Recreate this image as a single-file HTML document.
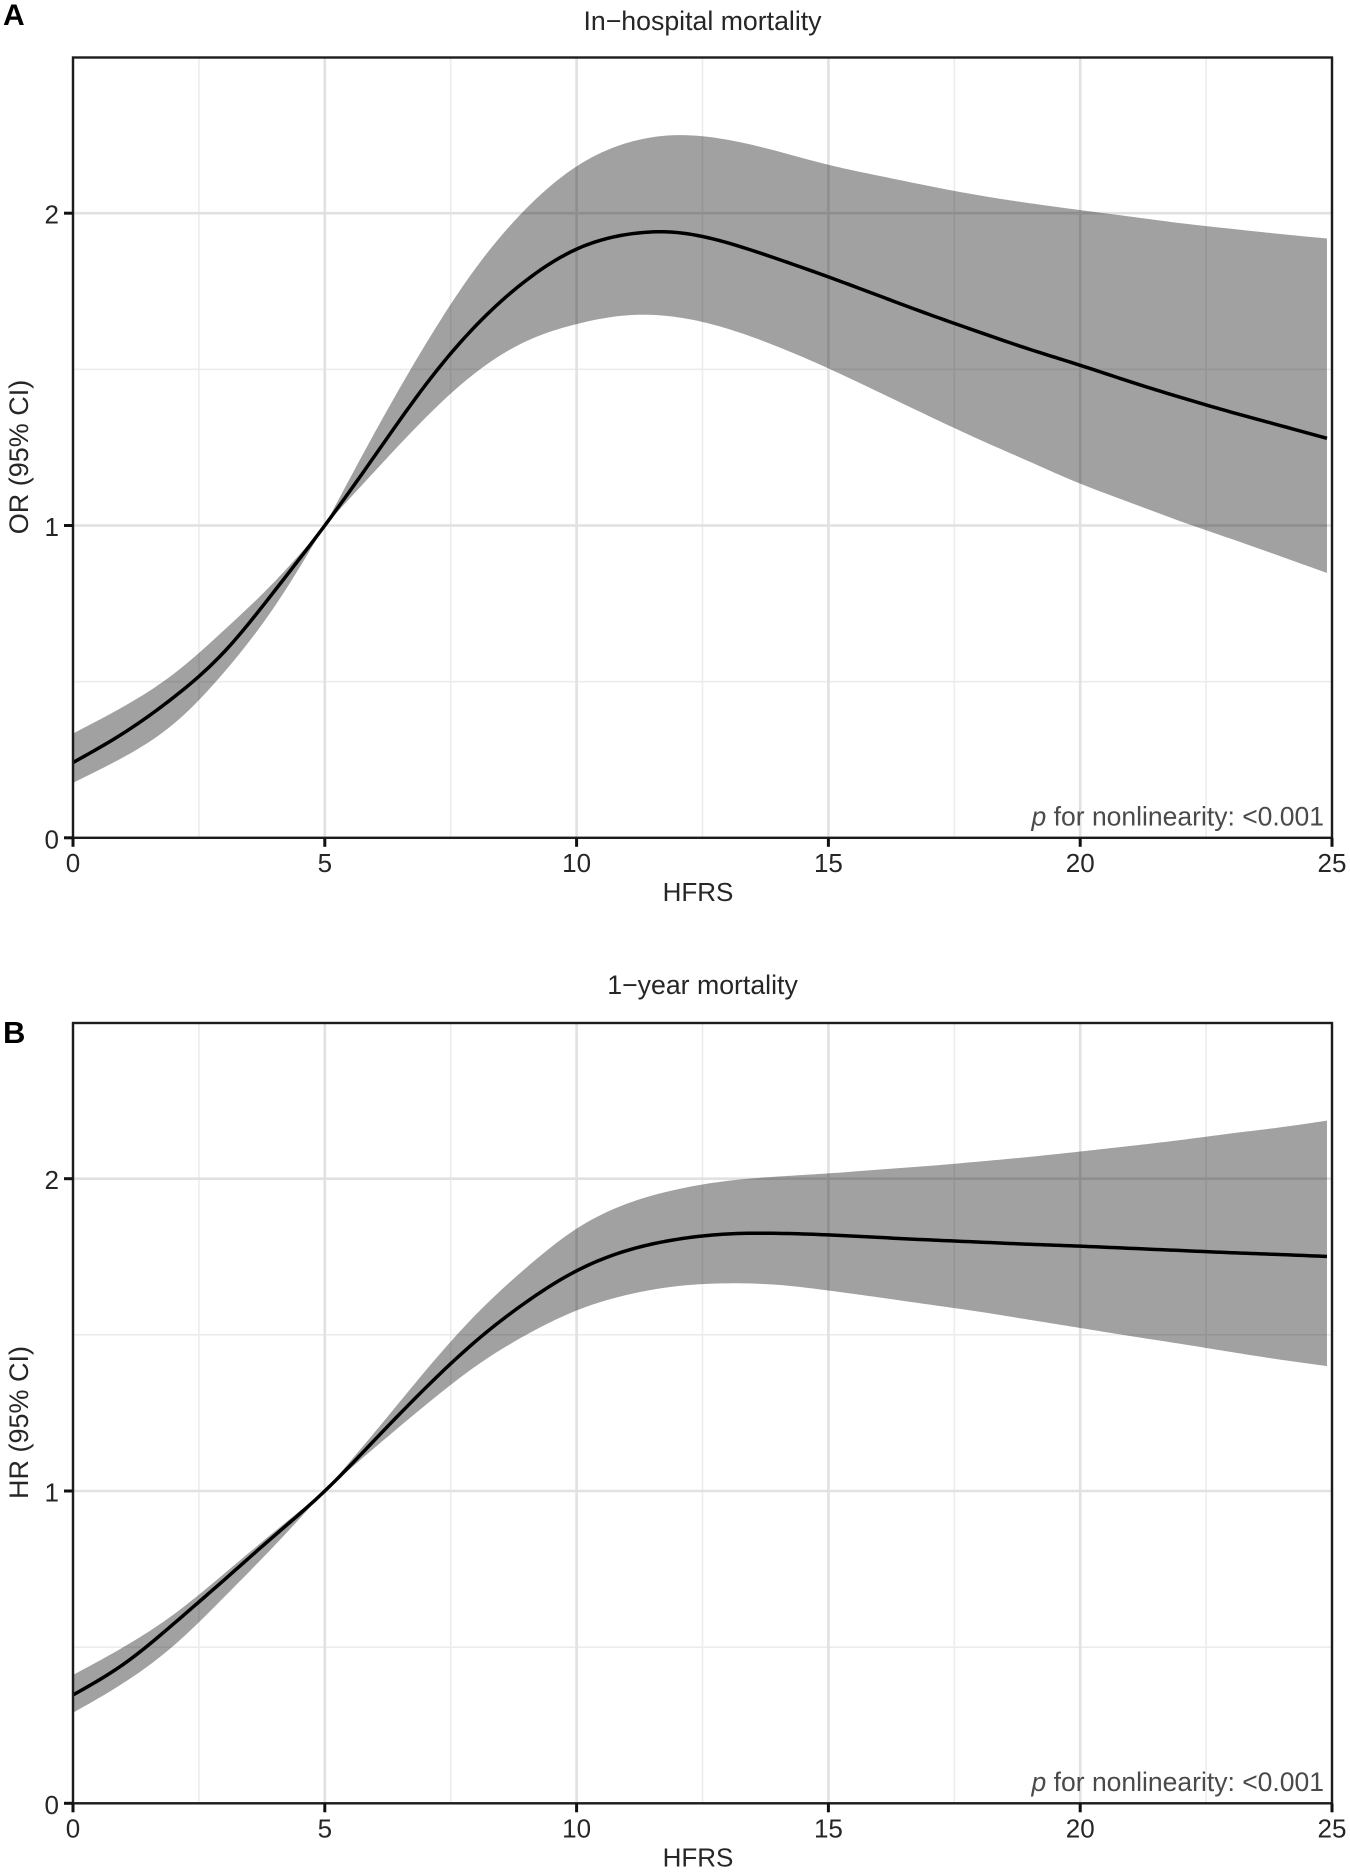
<!DOCTYPE html>
<html lang="en">
<head>
<meta charset="utf-8">
<title>HFRS spline curves</title>
<style>
html,body{margin:0;padding:0;background:#fff;}
svg{display:block;font-family:"Liberation Sans",Arial,sans-serif;}
text{fill:#262626;}
</style>
</head>
<body>
<svg id="figure" width="1350" height="1875" viewBox="0 0 1350 1875" xmlns="http://www.w3.org/2000/svg"></svg>
<script>
// Shared HFRS positions at which the curves were read
const hfrsValues = [0,1,2,3,4,5,6,7,8,9,10,11,12,13,14,15,16,17,18,19,20,21,22,23,24,24.9];
// Panel A: in-hospital mortality (OR)
const aMean  = [0.241,0.335,0.45,0.595,0.79,1,1.225,1.45,1.64,1.785,1.885,1.932,1.938,1.905,1.853,1.796,1.736,1.676,1.619,1.564,1.513,1.46,1.41,1.363,1.319,1.279];
const aUpper = [0.334,0.42,0.525,0.665,0.82,1,1.3,1.58,1.825,2.015,2.15,2.225,2.25,2.235,2.198,2.155,2.12,2.087,2.057,2.032,2.01,1.989,1.968,1.95,1.933,1.919];
const aLower = [0.176,0.258,0.365,0.53,0.74,1,1.175,1.345,1.49,1.59,1.645,1.673,1.667,1.63,1.572,1.503,1.427,1.35,1.275,1.204,1.134,1.073,1.013,0.957,0.9,0.848];
// Panel B: 1-year mortality (HR)
const bMean  = [0.347,0.445,0.575,0.715,0.857,1,1.165,1.33,1.48,1.605,1.705,1.77,1.806,1.823,1.825,1.82,1.812,1.804,1.797,1.79,1.784,1.777,1.77,1.763,1.757,1.751];
const bUpper = [0.411,0.5,0.605,0.735,0.87,1,1.19,1.385,1.565,1.715,1.84,1.92,1.966,1.993,2.007,2.017,2.029,2.041,2.055,2.07,2.087,2.105,2.124,2.145,2.165,2.186];
const bLower = [0.29,0.385,0.505,0.66,0.825,1,1.14,1.275,1.4,1.5,1.578,1.628,1.656,1.665,1.66,1.642,1.62,1.597,1.574,1.548,1.522,1.496,1.471,1.445,1.42,1.4];
// Axis ticks
const xMajorTicks = [0,5,10,15,20,25];
const xMinorTicks = [2.5,7.5,12.5,17.5,22.5];
const yMajorTicks = [0,1,2];
const yMinorTicks = [0.5,1.5];
// Every curve passes through 1 at this reference HFRS
const referenceHfrs = 5;

const NS = 'http://www.w3.org/2000/svg';
const figure = document.getElementById('figure');

function make(parent, tag, attrs, txt) {
  const node = document.createElementNS(NS, tag);
  for (const k in attrs) node.setAttribute(k, attrs[k]);
  if (txt !== undefined) node.textContent = txt;
  parent.appendChild(node);
  return node;
}

// Natural cubic spline through (xs, ys); returns evaluator
function naturalSpline(xs, ys) {
  const n = xs.length, a = new Array(n).fill(0), b = new Array(n).fill(1), c = new Array(n).fill(0), r = new Array(n).fill(0);
  for (let i = 1; i < n - 1; i++) {
    const h0 = xs[i]-xs[i-1], h1 = xs[i+1]-xs[i];
    a[i] = h0; b[i] = 2*(h0+h1); c[i] = h1;
    r[i] = 6*((ys[i+1]-ys[i])/h1-(ys[i]-ys[i-1])/h0);
  }
  for (let i = 1; i < n; i++) {
    const w = a[i]/b[i-1];
    b[i] -= w*c[i-1];
    r[i] -= w*r[i-1];
  }
  const m = new Array(n).fill(0);
  for (let i = n - 1; i >= 0; i--) m[i] = (r[i]-(i < n-1 ? c[i]*m[i+1] : 0))/b[i];
  return function (x) {
    let i = 0;
    while (i < n - 2 && x > xs[i+1]) i++;
    const h = xs[i+1]-xs[i], t0 = xs[i+1]-x, t1 = x-xs[i];
    return m[i]*t0*t0*t0/(6*h) + m[i+1]*t1*t1*t1/(6*h) + (ys[i]/h-m[i]*h/6)*t0 + (ys[i+1]/h-m[i+1]*h/6)*t1;
  };
}

// Dense samples of a series; band edges keep their pinch at the reference point
function sampleSeries(xs, ys, splitAtReference) {
  const out = [];
  const last = xs[xs.length-1];
  let left = naturalSpline(xs, ys), right = left;
  if (splitAtReference) {
    const k = xs.indexOf(referenceHfrs);
    left = naturalSpline(xs.slice(0, k+1), ys.slice(0, k+1));
    right = naturalSpline(xs.slice(k), ys.slice(k));
  }
  const steps = Math.round(last*10);
  for (let s = 0; s <= steps; s++) {
    const x = last*s/steps;
    out.push([x, x <= referenceHfrs ? left(x) : right(x)]);
  }
  return out;
}

function drawPanel(p) {
  const left = 73, right = 1332;
  const top = p.top, bottom = p.top + 780.3;
  const sx = v => left + v * (right - left) / 25;
  const sy = v => bottom - v * 312.3;
  const g = make(figure, 'g', {});
  
  

  const minorStyle = {stroke:'#ececec', 'stroke-width':1.6};
  const majorStyle = {stroke:'#e1e1e1', 'stroke-width':2.6};
  yMinorTicks.forEach(v => {
    const l = make(g, 'line', Object.assign({x1:left, x2:right, y1:sy(v), y2:sy(v)}, minorStyle));
    
    
  });
  xMinorTicks.forEach(v => {
    const l = make(g, 'line', Object.assign({x1:sx(v), x2:sx(v), y1:top, y2:bottom}, minorStyle));
    
    
  });
  yMajorTicks.forEach(v => {
    const l = make(g, 'line', Object.assign({x1:left, x2:right, y1:sy(v), y2:sy(v)}, majorStyle));
    
    
  });
  xMajorTicks.forEach(v => {
    const l = make(g, 'line', Object.assign({x1:sx(v), x2:sx(v), y1:top, y2:bottom}, majorStyle));
    
    
  });

  const toPoint = q => sx(q[0]).toFixed(2) + ' ' + sy(q[1]).toFixed(2);

  // Confidence ribbon
  const upperPts = sampleSeries(p.x, p.upper, true).map(toPoint);
  const lowerPts = sampleSeries(p.x, p.lower, true).map(toPoint).reverse();
  const ribbon = make(g, 'path', {d:'M' + upperPts.concat(lowerPts).join('L') + 'Z', fill:'#000', 'fill-opacity':0.37, stroke:'none'});
  
  

  // Mean curve
  const meanPts = sampleSeries(p.x, p.mean, false).map(toPoint);
  const curve = make(g, 'path', {d:'M' + meanPts.join('L'), fill:'none', stroke:'#000', 'stroke-width':3.5, 'stroke-linejoin':'round'});
  
  

  // Panel border
  const border = make(g, 'rect', {x:left, y:top, width:right-left, height:bottom-top, fill:'none', stroke:'#1c1c1c', 'stroke-width':2.4});
  
  

  // Ticks and tick labels
  yMajorTicks.forEach(v => {
    const t = make(g, 'line', {x1:64, x2:left, y1:sy(v), y2:sy(v), stroke:'#111', 'stroke-width':3});
    
    
    const lab = make(g, 'text', {x:59, y:sy(v)+10.5, 'text-anchor':'end', 'font-size':26}, String(v));
    
    
  });
  xMajorTicks.forEach(v => {
    const t = make(g, 'line', {x1:sx(v), x2:sx(v), y1:bottom, y2:bottom+9, stroke:'#111', 'stroke-width':3});
    
    
    const lab = make(g, 'text', {x:sx(v), y:bottom+34, 'text-anchor':'middle', 'font-size':26}, String(v));
    
    
  });

  // Titles
  const title = make(g, 'text', {x:702.5, y:p.titleY, 'text-anchor':'middle', 'font-size':26.7}, p.title);
  
  
  const xTitle = make(g, 'text', {x:698, y:bottom+63, 'text-anchor':'middle', 'font-size':26}, 'HFRS');
  
  
  const yMid = top + 399.5;
  const yTitle = make(g, 'text', {x:28, y:yMid, 'text-anchor':'middle', 'font-size':27, transform:'rotate(-90 28 '+yMid+')'}, p.yLabel);
  
  

  // Annotation
  const note = make(g, 'text', {x:1324, y:bottom-12.5, 'text-anchor':'end', 'font-size':26.5, style:'fill:#4a4a4a'});
  
  
  make(note, 'tspan', {'font-style':'italic', style:'fill:#4a4a4a'}, 'p');
  make(note, 'tspan', {style:'fill:#4a4a4a'}, ' for nonlinearity: <0.001');

  // Panel letter
  const letter = make(g, 'text', {x:3, y:p.letterY, 'font-size':p.letterSize, 'font-weight':'bold', style:'fill:#000'}, p.letter);
  
  
}

drawPanel({key:'in-hospital', top:57.5, titleY:30, title:'In\u2212hospital mortality', yLabel:'OR (95% CI)', letter:'A', letterY:25, letterSize:30, x:hfrsValues, mean:aMean, upper:aUpper, lower:aLower});
drawPanel({key:'one-year', top:1023, titleY:994, title:'1\u2212year mortality', yLabel:'HR (95% CI)', letter:'B', letterY:1043, letterSize:31, x:hfrsValues, mean:bMean, upper:bUpper, lower:bLower});
</script>
</body>
</html>
